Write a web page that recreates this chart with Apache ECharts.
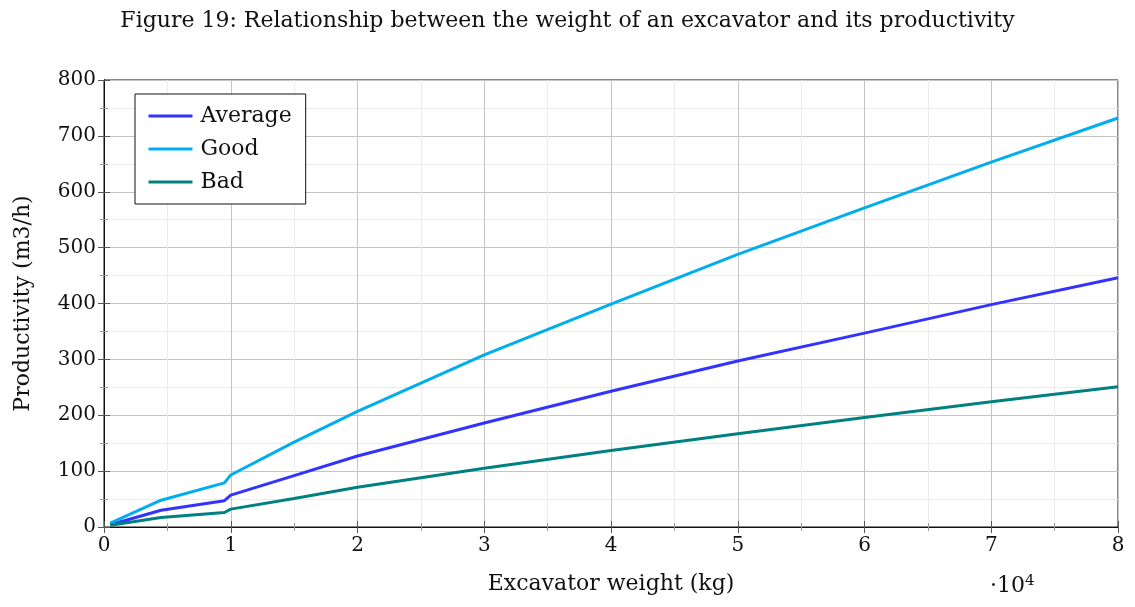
<!DOCTYPE html>
<html>
<head>
<meta charset="utf-8">
<script src="https://cdn.jsdelivr.net/npm/echarts@6/dist/echarts.min.js"></script>
<style>
html,body{margin:0;padding:0;background:#fff;}
#chart{width:1135px;height:607px;}
</style>
</head>
<body>
<div id="chart"></div>
<script>
// Excavator weight in units of 10^4 kg
var weights = [0.05, 0.45, 0.95, 1.0, 1.5, 2, 3, 4, 5, 6, 7, 8];
var average = [4, 30, 47, 57, 92, 127, 186, 243, 297, 347, 398, 446];
var good    = [7, 48, 79, 93, 152, 207, 308, 399, 488, 571, 653, 732];
var bad     = [3, 17, 26, 32, 51, 71, 105, 137, 167, 196, 224, 251];
var seriesNames = ['Average', 'Good', 'Bad'];
var titleText = 'Figure 19: Relationship between the weight of an excavator and its productivity';
var xName = 'Excavator weight (kg)';
var yName = 'Productivity (m3/h)';

var FONT = 'DejaVu Serif';
function pairs(ys){ return weights.map(function(x,i){ return [x, ys[i]]; }); }

var chart = echarts.init(document.getElementById('chart'), null, {renderer:'canvas'});
var baseAxisTick = {show:true, inside:true, length:6, lineStyle:{color:'#555', width:1}};
var minorTick = {show:true, splitNumber:2, length:4, lineStyle:{color:'#999', width:1}};
chart.setOption({
  animation:false,
  backgroundColor:'#fff',
  title:{
    text:titleText, left:'center', top:5,
    textStyle:{fontFamily:FONT, fontSize:22, fontWeight:'normal', color:'#111'}
  },
  grid:{left:104, right:17, top:80, bottom:80, show:true, borderColor:'#111', borderWidth:1, backgroundColor:'transparent', containLabel:false},
  legend:{
    orient:'vertical', left:135, top:94,
    backgroundColor:'#fff', borderColor:'#111', borderWidth:1,
    padding:[11,14,11,12], itemGap:11, itemWidth:44, itemHeight:14,
    itemStyle:{opacity:0}, lineStyle:{width:3},
    textStyle:{fontFamily:FONT, fontSize:22, color:'#111', padding:[0,0,0,3]},
    data:seriesNames
  },
  xAxis:[{
    type:'value', min:0, max:8, interval:1,
    name:xName, nameLocation:'middle', nameGap:46,
    nameTextStyle:{fontFamily:FONT, fontSize:22, color:'#111'},
    axisLine:{show:true, lineStyle:{color:'#111'}},
    axisTick:baseAxisTick, minorTick:minorTick,
    axisLabel:{fontFamily:FONT, fontSize:20, color:'#111', margin:9},
    splitLine:{show:true, lineStyle:{color:'#c4c4c4', width:1}},
    minorSplitLine:{show:true, lineStyle:{color:'#ececec', width:1}}
  },{
    type:'value', min:0, max:8, interval:1, position:'top',
    axisLine:{show:true, lineStyle:{color:'#111'}},
    axisTick:baseAxisTick, minorTick:minorTick,
    axisLabel:{show:false}, splitLine:{show:false}
  }],
  yAxis:[{
    type:'value', min:0, max:800, interval:100,
    name:yName, nameLocation:'middle', nameGap:70,
    nameTextStyle:{fontFamily:FONT, fontSize:22, color:'#111'},
    axisLine:{show:true, lineStyle:{color:'#111'}},
    axisTick:baseAxisTick, minorTick:minorTick,
    axisLabel:{fontFamily:FONT, fontSize:20, color:'#111', margin:8},
    splitLine:{show:true, lineStyle:{color:'#c4c4c4', width:1}},
    minorSplitLine:{show:true, lineStyle:{color:'#ececec', width:1}}
  },{
    type:'value', min:0, max:800, interval:100, position:'right',
    axisLine:{show:true, lineStyle:{color:'#111'}},
    axisTick:baseAxisTick, minorTick:minorTick,
    axisLabel:{show:false}, splitLine:{show:false}
  }],
  graphic:[{
    type:'text', left:990, top:574,
    style:{
      text:'·10{s|4}',
      rich:{s:{fontFamily:FONT, fontSize:15, fill:'#111', verticalAlign:'top', padding:[0,0,10,0]}},
      fontFamily:FONT, fontSize:22, fill:'#111'
    }
  }],
  series:[
    {name:seriesNames[0], type:'line', data:pairs(average), showSymbol:false, symbol:'none', lineStyle:{color:'#3333ff', width:3}, itemStyle:{color:'#3333ff'}, z:3},
    {name:seriesNames[1], type:'line', data:pairs(good), showSymbol:false, symbol:'none', lineStyle:{color:'#00aeef', width:3}, itemStyle:{color:'#00aeef'}, z:3},
    {name:seriesNames[2], type:'line', data:pairs(bad), showSymbol:false, symbol:'none', lineStyle:{color:'#008080', width:3}, itemStyle:{color:'#008080'}, z:3}
  ]
});
</script>
</body>
</html>
